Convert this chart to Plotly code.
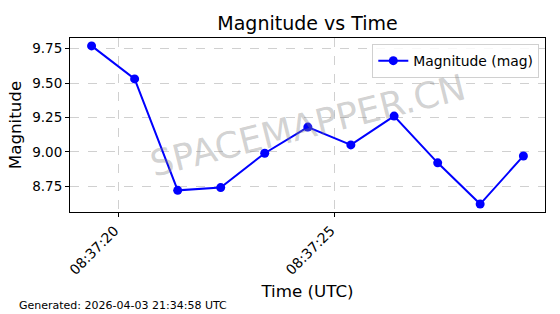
import plotly.graph_objects as go
import pandas as pd

# Data
times = [
    "2026-04-03 08:37:19.375", "2026-04-03 08:37:20.370", "2026-04-03 08:37:21.366",
    "2026-04-03 08:37:22.360", "2026-04-03 08:37:23.378", "2026-04-03 08:37:24.375",
    "2026-04-03 08:37:25.370", "2026-04-03 08:37:26.370", "2026-04-03 08:37:27.378",
    "2026-04-03 08:37:28.360", "2026-04-03 08:37:29.360",
]
magnitudes = [9.77, 9.53, 8.72, 8.74, 8.99, 9.18, 9.05, 9.26, 8.92, 8.62, 8.97]
series_name = "Magnitude (mag)"
x_tick_vals = ["2026-04-03 08:37:20", "2026-04-03 08:37:25"]
x_tick_text = ["08:37:20", "08:37:25"]
y_tick_vals = [8.75, 9.00, 9.25, 9.50, 9.75]

t = pd.to_datetime(times)
span = (t.max() - t.min())
x_range = [t.min() - span * 0.05, t.max() + span * 0.05]
ymin, ymax = min(magnitudes), max(magnitudes)
yr = ymax - ymin
y_range = [ymin - 0.05 * yr, ymax + 0.05 * yr]

FONT = "DejaVu Sans"
L, R, T, B = 70, 15, 38, 102
PW, PH = 560 - L - R, 314 - T - B

fig = go.Figure()
fig.add_trace(go.Scatter(
    x=t, y=magnitudes, mode="lines+markers", name=series_name,
    line=dict(color="#0000ff", width=2),
    marker=dict(color="#0000ff", size=9),
))

fig.update_layout(
    width=560, height=314,
    margin=dict(l=L, r=R, t=T, b=B),
    paper_bgcolor="white", plot_bgcolor="white",
    font=dict(family=FONT, color="black", size=14),
    title=dict(text="Magnitude vs Time", x=0.5, xref="paper", y=1 - 23 / 314,
               yref="container", xanchor="center", yanchor="middle",
               font=dict(size=19, family=FONT, color="black")),
    showlegend=True,
    legend=dict(x=0.988, y=0.965, xanchor="right", yanchor="top",
                bgcolor="rgba(255,255,255,0.85)", bordercolor="#d0d0d0", borderwidth=1,
                font=dict(size=13.9, family=FONT)),
    xaxis=dict(
        range=x_range, tickvals=pd.to_datetime(x_tick_vals), ticktext=x_tick_text,
        tickangle=-45, ticks="outside", ticklen=4, tickcolor="black",
        ticklabelshift=-4,
        showline=True, linecolor="black", linewidth=1, mirror=True,
        showgrid=True, gridcolor="#d0d0d0", griddash="dash", gridwidth=1,
        zeroline=False, tickfont=dict(size=13.9, family=FONT),
        title=dict(text="Time (UTC)", font=dict(size=16.7, family=FONT), standoff=8),
        automargin=False,
    ),
    yaxis=dict(
        range=y_range, tickvals=y_tick_vals, tickformat=".2f",
        ticks="outside", ticklen=4, tickcolor="black",
        showline=True, linecolor="black", linewidth=1, mirror=True,
        showgrid=True, gridcolor="#d0d0d0", griddash="dash", gridwidth=1,
        zeroline=False, tickfont=dict(size=13.5, family=FONT),
        title=dict(text="Magnitude", font=dict(size=16.7, family=FONT), standoff=6),
        automargin=False,
    ),
    annotations=[
        dict(text="SPACEMAPPER.CN", x=0.5, y=0.5, xref="paper", yref="paper",
             showarrow=False, textangle=-14,
             font=dict(size=36, family=FONT, color="rgba(128,128,128,0.36)")),
        dict(text="Generated: 2026-04-03 21:34:58 UTC",
             x=(17 - L) / PW, y=(314 - B - 305) / PH,
             xref="paper", yref="paper", xanchor="left", yanchor="middle",
             showarrow=False, font=dict(size=11, family=FONT, color="black")),
    ],
)

fig.write_html("out.html")
